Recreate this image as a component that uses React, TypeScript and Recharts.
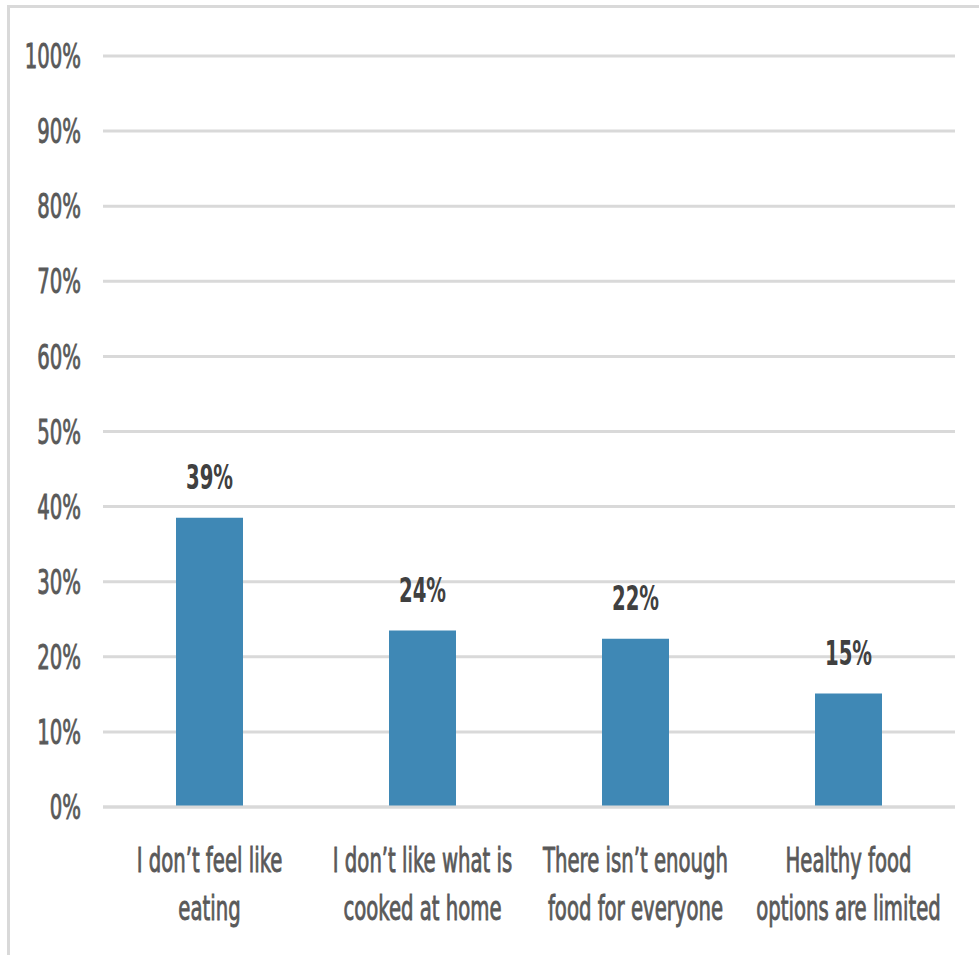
import { BarChart, Bar, XAxis, YAxis, CartesianGrid, LabelList } from 'recharts'

const categories = [
  'I don’t feel like\neating',
  'I don’t like what is\ncooked at home',
  'There isn’t enough\nfood for everyone',
  'Healthy food\noptions are limited',
]
const shares = [38.5, 23.5, 22.4, 15.1]
const shareLabels = ['39%', '24%', '22%', '15%']
const yTicks = [0, 10, 20, 30, 40, 50, 60, 70, 80, 90, 100]

const FONT = "'Liberation Sans Narrow', 'DejaVu Sans Condensed', sans-serif"
// condensed + tall text, like the stretched Calibri of the source
const SX = 0.81
const SY = 1.25

const chartData = categories.map((name, i) => ({ name, share: shares[i], label: shareLabels[i] }))

const YTick = ({ x, y, payload }: any) => (
  <g transform={`translate(${x},${y}) scale(${SX},${SY})`}>
    <text x={0} y={0} dy="0.36em" textAnchor="end" fill="#595959" stroke="#595959" strokeWidth={0.7} fontSize={27} fontFamily={FONT}>
      {payload.value}%
    </text>
  </g>
)

const XTick = ({ x, y, payload }: any) => {
  const lines = String(payload.value).split('\n')
  return (
    <g transform={`translate(${x},${y}) scale(${SX},${SY})`}>
      {lines.map((line, i) => (
        <text key={i} x={0} y={42.5 + i * 38.4} dy="0.36em" textAnchor="middle" fill="#595959" stroke="#595959" strokeWidth={0.7} fontSize={27} fontFamily={FONT}>
          {line}
        </text>
      ))}
    </g>
  )
}

const ValueLabel = ({ x, y, width, index }: any) => (
  <g transform={`translate(${x + width / 2},${y - 41}) scale(${SX},${SY})`}>
    <text x={0} y={0} dy="0.36em" textAnchor="middle" fill="#404040" fontSize={27} fontWeight="bold" fontFamily={FONT}>
      {shareLabels[index]}
    </text>
  </g>
)

export default function App() {
  return (
    <div style={{ position: 'absolute', left: 0, top: 0, width: 979, height: 955, background: '#fff', overflow: 'hidden' }}>
      <div
        style={{
          position: 'absolute',
          left: 7,
          top: 5,
          width: 1000,
          height: 1000,
          borderLeft: '3px solid #d9d9d9',
          borderTop: '3px solid #d9d9d9',
        }}
      />
      <div style={{ position: 'absolute', left: 0, top: 0 }}>
        <BarChart width={979} height={955} data={chartData} margin={{ top: 56, right: 24, left: 0, bottom: 28 }}>
          <CartesianGrid vertical={false} stroke="#d9d9d9" strokeWidth={3} />
          <XAxis
            dataKey="name"
            axisLine={{ stroke: '#d9d9d9', strokeWidth: 3 }}
            tickLine={false}
            tickSize={0}
            tickMargin={0}
            height={120}
            interval={0}
            tick={<XTick />}
          />
          <YAxis
            domain={[0, 100]}
            ticks={yTicks}
            width={103}
            axisLine={false}
            tickLine={false}
            tickSize={0}
            tickMargin={22}
            tick={<YTick />}
          />
          <Bar dataKey="share" fill="#3F88B5" barSize={67} isAnimationActive={false}>
            <LabelList dataKey="label" content={<ValueLabel />} />
          </Bar>
        </BarChart>
      </div>
    </div>
  )
}
